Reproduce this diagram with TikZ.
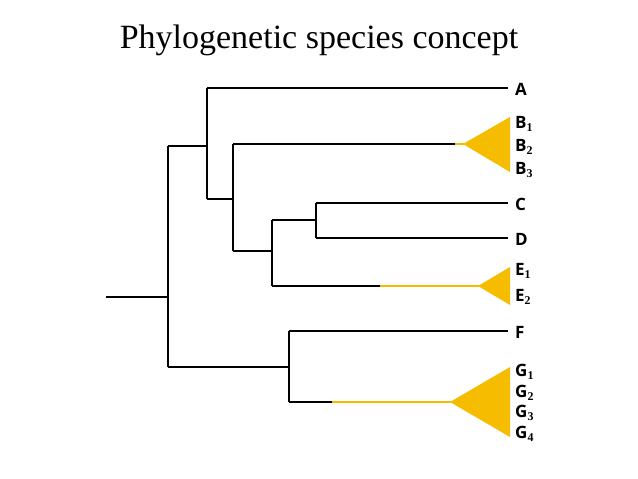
\documentclass[tikz,border=0pt]{standalone}
\usepackage{fontspec}
\setmainfont{Liberation Serif}
\newfontfamily\lab{Open Sans}
\definecolor{gold}{HTML}{F5BC00}
\begin{document}
\begin{tikzpicture}[x=1pt,y=-1pt,
  br/.style={line width=1.6pt,black},
  yb/.style={line width=1.6pt,gold},
  tri/.style={fill=gold,draw=none},
  lb/.style={anchor=west,inner sep=0pt,font=\lab\bfseries\fontsize{17}{17}\selectfont}]
\useasboundingbox (0,0) rectangle (638,479);
\node[font=\fontsize{34}{34}\selectfont] (title) at (319,40) {Phylogenetic species concept};
% root
\coordinate (r0) at (106,297); \coordinate (r1) at (168,297);
\draw[br] (r0) -- (r1);
\draw[br] (168,146) -- (168,367);
\draw[br] (168,146) -- (207,146);
\draw[br] (207,88) -- (207,199);
\draw[br] (207,88) -- (508,88);
\draw[br] (207,199) -- (233,199);
\draw[br] (233,144) -- (233,251);
\draw[br] (233,144) -- (455,144);
\draw[yb] (455,144) -- (464,144);
\fill[tri] (463,144) -- (510,117) -- (510,172) -- cycle;
\draw[br] (233,251) -- (272,251);
\draw[br] (272,220) -- (272,286);
\draw[br] (272,220) -- (316,220);
\draw[br] (316,203) -- (316,238);
\draw[br] (316,203) -- (508,203);
\draw[br] (316,238) -- (508,238);
\draw[br] (272,286) -- (380,286);
\draw[yb] (380,286) -- (479,286);
\fill[tri] (478,286) -- (510,267) -- (510,305) -- cycle;
\draw[br] (168,367) -- (289,367);
\draw[br] (289,331) -- (289,402);
\draw[br] (289,331) -- (508,331);
\draw[br] (289,402) -- (332,402);
\draw[yb] (332,402) -- (451,402);
\fill[tri] (450,402) -- (510,367) -- (510,437) -- cycle;
% labels
\node[lb] (A) at (515,89) {A};
\node[lb] (B1) at (515,124) {B$_{\mathbf 1}$};
\node[lb] (B2) at (515,147) {B$_{\mathbf 2}$};
\node[lb] (B3) at (515,170) {B$_{\mathbf 3}$};
\node[lb] (C) at (515,204) {C};
\node[lb] (D) at (515,239) {D};
\node[lb] (E1) at (515,271) {E$_{\mathbf 1}$};
\node[lb] (E2) at (515,297) {E$_{\mathbf 2}$};
\node[lb] (F) at (515,332) {F};
\node[lb] (G1) at (515,372) {G$_{\mathbf 1}$};
\node[lb] (G2) at (515,393) {G$_{\mathbf 2}$};
\node[lb] (G3) at (515,413) {G$_{\mathbf 3}$};
\node[lb] (G4) at (515,434) {G$_{\mathbf 4}$};
\end{tikzpicture}
\end{document}
